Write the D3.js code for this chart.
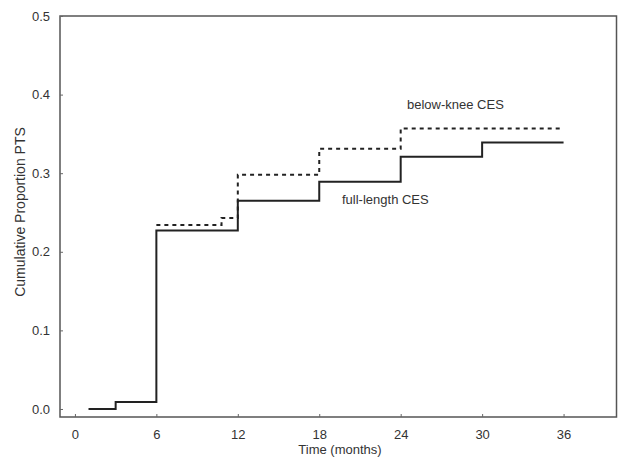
<!DOCTYPE html>
<html>
<head>
<meta charset="utf-8">
<script src="https://cdn.jsdelivr.net/npm/d3@7"></script>
<style>
  body { margin: 0; background: #fff; }
  text { font-family: "Liberation Sans", Arial, sans-serif; }
</style>
</head>
<body>
<script>

// step data (months, cumulative proportion)
var fullLengthTime = [1, 3, 6, 12, 18, 24, 30, 36];
var fullLengthValue = [0.0, 0.009, 0.227, 0.265, 0.289, 0.321, 0.339, 0.339];

var belowKneeTime = [6, 10.8, 12, 18, 24, 36];
var belowKneeValue = [0.234, 0.243, 0.298, 0.331, 0.357, 0.357];

var xTicks = [0, 6, 12, 18, 24, 30, 36];
var yTicks = [0.0, 0.1, 0.2, 0.3, 0.4, 0.5];

var w = 618, h = 457;
var margin = {top: 16, right: 1.5, bottom: 40, left: 60};

var svg = d3.select("body")
            .append("svg")
            .attr("width", w)
            .attr("height", h);

// scales
var xScale = d3.scaleLinear()
               .domain([-1.1, 39.9])
               .range([margin.left, w - margin.right]);

var yScale = d3.scaleLinear()
               .domain([-0.0102, 0.5])
               .range([h - margin.bottom, margin.top]);

// frame
svg.append("rect")
   .attr("x", margin.left)
   .attr("y", margin.top)
   .attr("width", w - margin.right - margin.left)
   .attr("height", h - margin.bottom - margin.top)
   .attr("fill", "none")
   .attr("stroke", "#555")
   .attr("stroke-width", 1.5);

// x axis
var xAxis = d3.axisBottom(xScale)
              .tickValues(xTicks)
              .tickSizeInner(-3)
              .tickSizeOuter(0)
              .tickPadding(13);

svg.append("g")
   .attr("class", "x axis")
   .attr("transform", "translate(0," + (h - margin.bottom) + ")")
   .call(xAxis)
   .call(function(g) {
     g.select(".domain").remove();
     g.selectAll("line").attr("stroke", "#666");
     g.selectAll("text").attr("fill", "#333").style("font-size", "13px");
   });

// y axis
var yAxis = d3.axisLeft(yScale)
              .tickValues(yTicks)
              .tickFormat(d3.format(".1f"))
              .tickSizeInner(-3)
              .tickSizeOuter(0)
              .tickPadding(10);

svg.append("g")
   .attr("class", "y axis")
   .attr("transform", "translate(" + margin.left + ",0)")
   .call(yAxis)
   .call(function(g) {
     g.select(".domain").remove();
     g.selectAll("line").attr("stroke", "#666");
     g.selectAll("text").attr("fill", "#333").style("font-size", "13px");
   });

// axis labels
svg.append("text")
   .attr("x", 340)
   .attr("y", 454)
   .attr("text-anchor", "middle")
   .attr("fill", "#333")
   .style("font-size", "13px")
   .text("Time (months)");

svg.append("text")
   .attr("transform", "translate(25,212) rotate(-90)")
   .attr("text-anchor", "middle")
   .attr("fill", "#333")
   .style("font-size", "14px")
   .text("Cumulative Proportion PTS");

// step lines
var line = d3.line()
             .x(function(d) { return xScale(d[0]); })
             .y(function(d) { return yScale(d[1]); })
             .curve(d3.curveStepAfter);

svg.append("path")
   .datum(d3.zip(belowKneeTime, belowKneeValue))
   .attr("d", line)
   .attr("fill", "none")
   .attr("stroke", "#222")
   .attr("stroke-width", 2)
   .attr("stroke-dasharray", "4,4");

svg.append("path")
   .datum(d3.zip(fullLengthTime, fullLengthValue))
   .attr("d", line)
   .attr("fill", "none")
   .attr("stroke", "#222")
   .attr("stroke-width", 2);

// series labels
svg.append("text")
   .attr("x", 407)
   .attr("y", 109)
   .attr("fill", "#333")
   .style("font-size", "13px")
   .text("below-knee CES");

svg.append("text")
   .attr("x", 342)
   .attr("y", 204)
   .attr("fill", "#333")
   .style("font-size", "13px")
   .text("full-length CES");

</script>
</body>
</html>
